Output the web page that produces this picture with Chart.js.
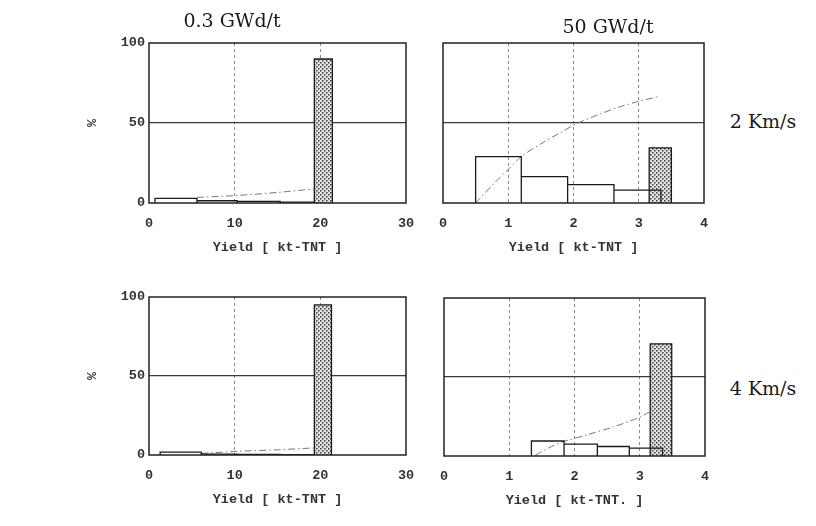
<!DOCTYPE html>
<html>
<head>
<meta charset="utf-8">
<script src="https://cdn.jsdelivr.net/npm/chart.js@4.4.1/dist/chart.umd.min.js"></script>
<style>
  html, body { margin: 0; padding: 0; background: #fff; }
  body { width: 816px; height: 526px; position: relative; overflow: hidden; }
  canvas { position: absolute; }
  .lbl { position: absolute; font-family: "DejaVu Serif", serif; font-size: 19px; color: #1a1a1a;
         transform: translate(-50%, -50%); white-space: nowrap; }
</style>
</head>
<body>
<canvas id="tl" width="370" height="240" style="left:60px;top:30px;width:370px;height:240px"></canvas>
<canvas id="tr" width="290" height="240" style="left:430px;top:30px;width:290px;height:240px"></canvas>
<canvas id="bl" width="370" height="240" style="left:60px;top:284px;width:370px;height:240px"></canvas>
<canvas id="br" width="290" height="240" style="left:430px;top:284px;width:290px;height:240px"></canvas>
<div class="lbl" style="left:232px;top:20px">0.3 GWd/t</div>
<div class="lbl" style="left:608px;top:26px">50 GWd/t</div>
<div class="lbl" style="left:763px;top:121px">2 Km/s</div>
<div class="lbl" style="left:763px;top:388px">4 Km/s</div>
<script>
// ---- data ----
const colTitles = ["0.3 GWd/t", "50 GWd/t"];
const rowTitles = ["2 Km/s", "4 Km/s"];
const yTicks = [0, 50, 100];
const xTicksLow = [0, 10, 20, 30];     // 0.3 GWd/t panels
const xTicksHigh = [0, 1, 2, 3, 4];    // 50 GWd/t panels
const xTitleTop = "Yield [ kt-TNT ]";
const xTitleBR = "Yield [ kt-TNT. ]";
const yTitle = "%";

// 0.3 GWd/t, 2 Km/s
const binEdgesTL = [0.7, 5.6, 10.3, 15.3, 19.3];
const binPctTL = [2.9, 1.4, 1.0, 0.6];
const peakTL = [19.3, 21.4, 90];       // [from, to, %]
const cumXTL = [5.6, 10, 15, 19.3];
const cumYTL = [3.5, 4.6, 6.6, 8.8];

// 50 GWd/t, 2 Km/s
const binEdgesTR = [0.5, 1.2, 1.91, 2.62, 3.34];
const binPctTR = [29, 16.5, 11.5, 8];
const peakTR = [3.16, 3.5, 34.5];
const cumXTR = [0.5, 0.8, 1.0, 1.2, 1.5, 1.8, 2.07, 2.4, 2.7, 3.0, 3.3];
const cumYTR = [0, 13, 21, 29, 37, 44, 50, 55.5, 60, 63.5, 66.5];

// 0.3 GWd/t, 4 Km/s
const binEdgesBL = [1.3, 6.1, 10.3, 15.3, 19.3];
const binPctBL = [1.8, 0.6, 0.4, 0.3];
const peakBL = [19.3, 21.3, 95];
const cumXBL = [6.1, 10.3, 15, 19.3];
const cumYBL = [1.0, 2.3, 3.3, 4.5];

// 50 GWd/t, 4 Km/s
const binEdgesBR = [1.34, 1.84, 2.35, 2.84, 3.35];
const binPctBR = [9.5, 7.5, 6, 5];
const peakBR = [3.16, 3.49, 71];
const cumXBR = [1.4, 1.6, 1.82, 2.2, 2.6, 3.0, 3.15];
const cumYBR = [0.5, 5, 9, 13.5, 18.5, 24.5, 28];

// ---- helpers ----
function binOutline(edges, pct) {
  const pts = [];
  for (let i = 0; i < pct.length; i++) {
    pts.push({x: edges[i], y: 0}, {x: edges[i], y: pct[i]},
             {x: edges[i + 1], y: pct[i]}, {x: edges[i + 1], y: 0},
             {x: edges[i + 1], y: null});
  }
  return pts;
}
function peakRect(p) {
  return [{x: p[0], y: 0}, {x: p[0], y: p[2]}, {x: p[1], y: p[2]}, {x: p[1], y: 0}];
}
function zip(xs, ys) { return xs.map((x, i) => ({x, y: ys[i]})); }

function dotPattern() {
  const c = document.createElement('canvas');
  c.width = 4; c.height = 4;
  const g = c.getContext('2d');
  g.fillStyle = '#e2e2e2'; g.fillRect(0, 0, 4, 4);
  g.fillStyle = '#3a3a3a';
  g.fillRect(0, 0, 1.5, 1.5);
  g.fillRect(2, 2, 1.5, 1.5);
  return g.createPattern(c, 'repeat');
}
const pattern = dotPattern();

const frame = {
  id: 'frame',
  afterDraw(chart) {
    const a = chart.chartArea, ctx = chart.ctx;
    ctx.save();
    ctx.strokeStyle = '#222'; ctx.lineWidth = 1.5;
    ctx.strokeRect(a.left, a.top, a.right - a.left, a.bottom - a.top);
    ctx.restore();
  }
};

const monoFont = {family: '"Liberation Mono", "DejaVu Sans Mono", monospace', size: 13.5, weight: 'bold'};

function makePanel(id, o) {
  const xMin = o.xTicks[0], xMax = o.xTicks[o.xTicks.length - 1];
  new Chart(document.getElementById(id), {
    type: 'scatter',
    data: {
      datasets: [
        {data: binOutline(o.edges, o.pct), showLine: true, borderColor: '#1a1a1a', borderWidth: 1.3,
         pointRadius: 0, spanGaps: false, fill: false},
        {data: zip(o.cumX, o.cumY), showLine: true, borderColor: '#777', borderWidth: 1,
         borderDash: [7, 3, 1.5, 3], pointRadius: 0, tension: 0.3, fill: false},
        {data: peakRect(o.peak), showLine: true, borderColor: '#1a1a1a', borderWidth: 1.3,
         pointRadius: 0, fill: 'origin', backgroundColor: pattern}
      ]
    },
    options: {
      responsive: false, animation: false,
      layout: {padding: o.pad},
      plugins: {legend: {display: false}, tooltip: {enabled: false}},
      scales: {
        x: {
          type: 'linear', min: xMin, max: xMax,
          afterBuildTicks: s => { s.ticks = o.xTicks.map(v => ({value: v})); },
          afterFit: s => { s.height = 53; s.paddingLeft = 0; s.paddingRight = 0; },
          grid: {drawTicks: false, lineWidth: 1,
                 color: c => (c.tick && (c.tick.value === xMin || c.tick.value === xMax)) ? 'rgba(0,0,0,0)' : '#8a8a8a'},
          border: {display: false, dash: [3, 3]},
          ticks: {font: monoFont, color: '#333', padding: 12, maxRotation: 0, autoSkip: false},
          title: {display: true, text: o.xTitle, font: monoFont, color: '#333', padding: {top: 0, bottom: 0}}
        },
        y: {
          type: 'linear', min: 0, max: 100,
          afterBuildTicks: s => { s.ticks = yTicks.map(v => ({value: v})); },
          afterFit: s => { s.width = o.yLabels ? 65 : 0; },
          grid: {drawTicks: false, lineWidth: 1.2,
                 color: c => (c.tick && c.tick.value === 50) ? '#3a3a3a' : 'rgba(0,0,0,0)'},
          border: {display: false},
          ticks: {display: o.yLabels, font: monoFont, color: '#333', padding: 4},
          title: {display: o.yLabels, text: yTitle, font: monoFont, color: '#333', padding: 0}
        }
      }
    },
    plugins: [frame]
  });
}

makePanel('tl', {xTicks: xTicksLow, edges: binEdgesTL, pct: binPctTL, peak: peakTL, cumX: cumXTL, cumY: cumYTL,
  xTitle: xTitleTop, yLabels: true, pad: {left: 24, top: 13, right: 24, bottom: 14}});
makePanel('tr', {xTicks: xTicksHigh, edges: binEdgesTR, pct: binPctTR, peak: peakTR, cumX: cumXTR, cumY: cumYTR,
  xTitle: xTitleTop, yLabels: false, pad: {left: 13, top: 13, right: 16, bottom: 14}});
makePanel('bl', {xTicks: xTicksLow, edges: binEdgesBL, pct: binPctBL, peak: peakBL, cumX: cumXBL, cumY: cumYBL,
  xTitle: xTitleTop, yLabels: true, pad: {left: 24, top: 13, right: 24, bottom: 16}});
makePanel('br', {xTicks: xTicksHigh, edges: binEdgesBR, pct: binPctBR, peak: peakBR, cumX: cumXBR, cumY: cumYBR,
  xTitle: xTitleBR, yLabels: false, pad: {left: 14, top: 14, right: 15, bottom: 15}});
</script>
</body>
</html>
